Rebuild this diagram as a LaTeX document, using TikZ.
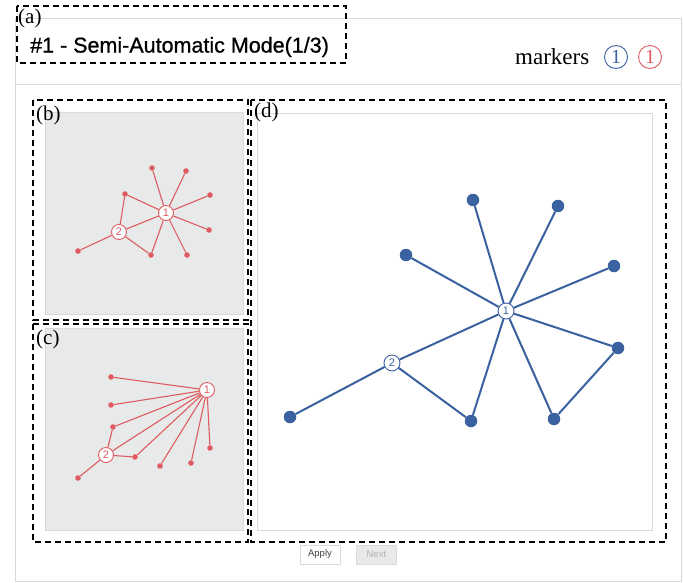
\documentclass[tikz,border=0pt]{standalone}
\usepackage{fontspec}
\setmainfont{Liberation Serif}
\setsansfont{Liberation Sans}
\newfontfamily\headfont{Liberation Sans}[FakeBold=0.8]
\usepackage{xcolor}
\usetikzlibrary{positioning}

\definecolor{markred}{RGB}{222,92,97}
\definecolor{markblue}{RGB}{58,97,160}
\definecolor{panelgray}{RGB}{232,233,233}
\definecolor{framegray}{RGB}{218,218,218}

\begin{document}
\begin{tikzpicture}[x=1pt, y=-1pt]
        % Styles
        \tikzset{
            viewbox/.style={draw=black, dashed, dash pattern=on 6pt off 4pt, line width=1.3pt},
            tag/.style={anchor=west, inner sep=0pt, font=\fontsize{21}{21}\selectfont},
            redleaf/.style={circle, fill=markred, inner sep=0pt, minimum size=5.6pt},
            redhub/.style={circle, draw=markred, fill=white, line width=0.9pt, inner sep=0pt, minimum size=15pt, text=markred, font=\fontsize{11}{11}\sffamily},
            rededge/.style={draw=markred, line width=1.1pt},
            blueleaf/.style={circle, fill=markblue, inner sep=0pt, minimum size=12.5pt},
            bluehub/.style={circle, draw=markblue, fill=white, line width=0.9pt, inner sep=0pt, minimum size=16pt, text=markblue, font=\fontsize{11}{11}\sffamily},
            blueedge/.style={draw=markblue, line width=2pt},
            button/.style={draw=framegray, rectangle, minimum width=40pt, minimum height=19pt, inner sep=0pt, font=\fontsize{9.5}{9.5}\sffamily}
        }
        \useasboundingbox (0,0) rectangle (683,582);

        % Page frame and header
        \draw [framegray, line width=0.8pt] (15,18) rectangle (681,581);
        \draw [framegray, line width=0.8pt] (15,84) -- (681,84);
        \node [anchor=west, inner sep=0pt, font=\fontsize{21.5}{21.5}\headfont] (title) at (30,47) {\#1 - Semi-Automatic Mode(1/3)};
        \node [anchor=west, inner sep=0pt, font=\fontsize{23}{23}\selectfont] (markers) at (515,57) {markers};
        \node [circle, draw=markblue, line width=0.9pt, minimum size=23pt, inner sep=0pt, text=markblue, font=\fontsize{20}{20}\selectfont] (blueref) at (616,57) {1};
        \node [circle, draw=markred, line width=0.9pt, minimum size=23pt, inner sep=0pt, text=markred, font=\fontsize{20}{20}\selectfont] (redref) at (650,57) {1};

        % Panels
        \draw [framegray, fill=panelgray, line width=0.8pt] (45,112) rectangle (243,314);
        \draw [framegray, fill=panelgray, line width=0.8pt] (45,328) rectangle (243,530);
        \draw [framegray, fill=white, line width=0.8pt] (257,113) rectangle (652,530);

        % Panel (b) graph
        \node [redhub] (b1) at (166,213) {1};
        \node [redhub] (b2) at (119,232) {2};
        \node [redleaf] (ba) at (152,168) {};
        \node [redleaf] (bb) at (186,171) {};
        \node [redleaf] (bc) at (125,194) {};
        \node [redleaf] (bd) at (210,195) {};
        \node [redleaf] (be) at (209,230) {};
        \node [redleaf] (bf) at (187,255) {};
        \node [redleaf] (bg) at (151,255) {};
        \node [redleaf] (bh) at (78,251) {};
        \draw [rededge] (b1) -- (ba) (b1) -- (bb) (b1) -- (bc) (b1) -- (bd) (b1) -- (be) (b1) -- (bf) (b1) -- (bg) (b1) -- (b2);
        \draw [rededge] (b2) -- (bc) (b2) -- (bg) (b2) -- (bh);

        % Panel (c) graph
        \node [redhub] (c1) at (207,390) {1};
        \node [redhub] (c2) at (106,455) {2};
        \node [redleaf] (ca) at (111,377) {};
        \node [redleaf] (cb) at (111,405) {};
        \node [redleaf] (cc) at (113,427) {};
        \node [redleaf] (cd) at (135,457) {};
        \node [redleaf] (ce) at (160,466) {};
        \node [redleaf] (cf) at (191,463) {};
        \node [redleaf] (cg) at (210,448) {};
        \node [redleaf] (ch) at (78,478) {};
        \draw [rededge] (c1) -- (ca) (c1) -- (cb) (c1) -- (cc) (c1) -- (c2) (c1) -- (cd) (c1) -- (ce) (c1) -- (cf) (c1) -- (cg);
        \draw [rededge] (c2) -- (cc) (c2) -- (cd) (c2) -- (ch);

        % Panel (d) graph
        \node [bluehub] (d1) at (506,311) {1};
        \node [bluehub] (d2) at (392,363) {2};
        \node [blueleaf] (da) at (473,200) {};
        \node [blueleaf] (db) at (558,206) {};
        \node [blueleaf] (dc) at (406,255) {};
        \node [blueleaf] (dd) at (614,266) {};
        \node [blueleaf] (de) at (618,348) {};
        \node [blueleaf] (df) at (554,419) {};
        \node [blueleaf] (dg) at (471,421) {};
        \node [blueleaf] (dh) at (290,417) {};
        \draw [blueedge] (d1) -- (da) (d1) -- (db) (d1) -- (dc) (d1) -- (dd) (d1) -- (de) (d1) -- (df) (d1) -- (dg) (d1) -- (d2);
        \draw [blueedge] (d2) -- (dg) (d2) -- (dh) (de) -- (df);

        % Buttons
        \node [button, text=black!75] (apply) at (320,554.5) {Apply};
        \node [button, fill=panelgray, text=black!30, right=16pt of apply] (next) {Next};

        % Dashed view boxes and tags
        \draw [viewbox] (17,6) rectangle (346,63);
        \draw [viewbox] (33,100) rectangle (248,320);
        \draw [viewbox] (33,324) rectangle (248,542);
        \draw [viewbox] (251,100) rectangle (666,542);
        \node [tag] (taga) at (18,18) {(a)};
        \node [tag] (tagb) at (36,115) {(b)};
        \node [tag] (tagc) at (36,339) {(c)};
        \node [tag] (tagd) at (254,112) {(d)};
\end{tikzpicture}
\end{document}
